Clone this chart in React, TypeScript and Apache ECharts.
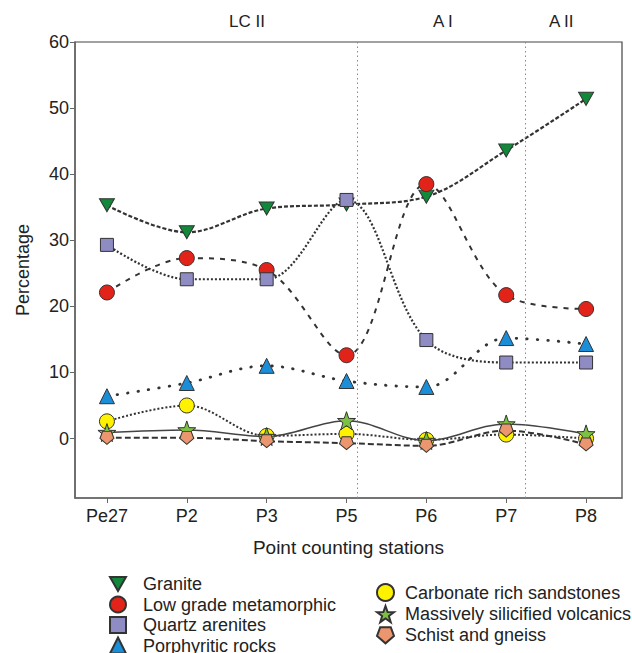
import React, { useEffect, useRef } from "react";
import * as echarts from "echarts";

const stations = ["Pe27", "P2", "P3", "P5", "P6", "P7", "P8"];
const yTicks = [0, 10, 20, 30, 40, 50, 60];
const zoneLabels = ["LC II", "A I", "A II"];
const zoneBoundaries = [3.13, 5.24];

const granite = [35.3, 31.2, 34.8, 35.4, 36.6, 43.6, 51.4];
const lowGrade = [22.1, 27.3, 25.5, 12.6, 38.5, 21.7, 19.6];
const quartzArenites = [29.3, 24.1, 24.1, 36.1, 14.9, 11.5, 11.5];
const porphyritic = [6.4, 8.4, 11.0, 8.7, 7.8, 15.2, 14.3];
const carbonate = [2.6, 5.0, 0.4, 0.7, -0.2, 0.6, 0.0];
const silicified = [0.9, 1.3, 0.3, 2.7, -0.3, 2.2, 0.7];
const schist = [0.1, 0.1, -0.4, -0.7, -1.1, 1.2, -0.9];

const FONT = "Liberation Sans, Arial, sans-serif";

const DOWN_TRI = "path://M0,0L10,0L5,8.7Z";
const STAR =
  "path://M5,0L6.18,3.38L9.76,3.45L6.9,5.62L7.94,9.05L5,7L2.06,9.05L3.1,5.62L0.24,3.45L3.82,3.38Z";
const PENTAGON = "path://M1.9,0L8.1,0L10,5.2L5,9.5L0,5.2Z";

export default function App() {
  const ref = useRef<HTMLDivElement>(null);
  useEffect(() => {
    if (!ref.current) return;
    const chart = echarts.init(ref.current, undefined, { renderer: "svg" });

    const mk = (
      name: string,
      values: number[],
      color: string,
      symbol: string,
      size: number | number[],
      lineType: any,
      lineWidth: number,
      lineColor: string,
      cap: string,
      extra: any = {}
    ) => ({
      name,
      type: "line",
      smooth: 0.35,
      data: values.map((v, i) => [i, v]),
      symbol,
      symbolSize: size,
      itemStyle: { color, borderColor: "#333", borderWidth: 1 },
      lineStyle: { type: lineType, width: lineWidth, color: lineColor, cap },
      ...extra,
    });

    const series: any[] = [
      mk("Granite", granite, "#12883a", DOWN_TRI, [15, 13], [4, 2], 2.2, "#333", "butt", {
        markLine: {
          silent: true,
          symbol: "none",
          label: { show: false },
          lineStyle: { type: [1.5, 3], color: "#888", width: 1 },
          data: zoneBoundaries.map((x) => ({ xAxis: x })),
        },
      }),
      mk("Low grade metamorphic", lowGrade, "#e2231a", "circle", 15, [5, 6], 2, "#333", "butt"),
      mk("Quartz arenites", quartzArenites, "#8f8cc4", "rect", 13, [2, 2], 2.2, "#333", "butt"),
      mk("Porphyritic rocks", porphyritic, "#1a8ed8", "triangle", 15, [0.5, 10], 2.8, "#333", "round"),
      mk("Carbonate rich sandstones", carbonate, "#fff200", "circle", 15, [2, 2], 2, "#333", "butt"),
      mk("Massively silicified volcanics", silicified, "#7cc242", STAR, 18, "solid", 1.5, "#444", "butt"),
      mk("Schist and gneiss", schist, "#ec9670", PENTAGON, [14, 13], [6, 3], 2, "#333", "butt"),
    ];

    const legendText = {
      fontFamily: FONT,
      fontSize: 18,
      lineHeight: 18,
      color: "#222",
      padding: [0, 0, 0, 12],
    };

    chart.setOption({
      animation: false,
      backgroundColor: "#fff",
      textStyle: { fontFamily: FONT },
      grid: {
        left: 75,
        right: 10,
        top: 42,
        bottom: 155,
        show: true,
        borderColor: "#444",
        borderWidth: 1.2,
      },
      xAxis: {
        type: "value",
        min: -0.4,
        max: 6.45,
        name: "Point counting stations",
        nameLocation: "middle",
        nameGap: 40,
        nameTextStyle: { fontFamily: FONT, fontSize: 19, color: "#222" },
        axisLine: { show: true, onZero: false, lineStyle: { color: "#666", width: 1.5 } },
        axisTick: { show: true, customValues: stations.map((_, i) => i), length: 5, lineStyle: { color: "#666" } },
        axisLabel: {
          customValues: stations.map((_, i) => i),
          formatter: (v: number) => stations[Math.round(v)] ?? "",
          fontFamily: FONT,
          fontSize: 18,
          color: "#222",
          margin: 9,
        },
        splitLine: { show: false },
      },
      yAxis: {
        type: "value",
        min: -9,
        max: 60,
        name: "Percentage",
        nameLocation: "middle",
        nameGap: 43,
        nameTextStyle: { fontFamily: FONT, fontSize: 18, color: "#222" },
        axisLine: { show: true, onZero: false, lineStyle: { color: "#666", width: 1.5 } },
        axisTick: { show: true, customValues: yTicks, length: 5, lineStyle: { color: "#666" } },
        axisLabel: {
          customValues: yTicks,
          fontFamily: FONT,
          fontSize: 18,
          color: "#222",
          margin: 6,
        },
        splitLine: { show: false },
      },
      legend: [
        {
          left: 104,
          top: 570,
          height: 120,
          orient: "vertical",
          itemGap: 2.5,
          itemWidth: 16,
          itemHeight: 16,
          textStyle: legendText,
          data: [
            { name: "Granite", icon: DOWN_TRI },
            { name: "Low grade metamorphic", icon: "circle" },
            { name: "Quartz arenites", icon: "rect" },
            { name: "Porphyritic rocks", icon: "triangle" },
          ],
        },
        {
          left: 371,
          top: 578,
          height: 120,
          orient: "vertical",
          itemGap: 3,
          itemWidth: 17,
          itemHeight: 17,
          textStyle: { ...legendText, padding: [0, 0, 0, 6] },
          data: [
            { name: "Carbonate rich sandstones", icon: "circle" },
            { name: "Massively silicified volcanics", icon: STAR },
            { name: "Schist and gneiss", icon: PENTAGON },
          ],
        },
      ],
      graphic: [
        { type: "text", left: 229, top: 13, style: { text: zoneLabels[0], font: `17px ${FONT}`, fill: "#222" } },
        { type: "text", left: 433, top: 13, style: { text: zoneLabels[1], font: `17px ${FONT}`, fill: "#222" } },
        { type: "text", left: 549, top: 13, style: { text: zoneLabels[2], font: `17px ${FONT}`, fill: "#222" } },
      ],
      series,
    });
    return () => chart.dispose();
  }, []);
  return <div ref={ref} style={{ width: 632, height: 653, position: "absolute", left: 0, top: 0 }} />;
}
